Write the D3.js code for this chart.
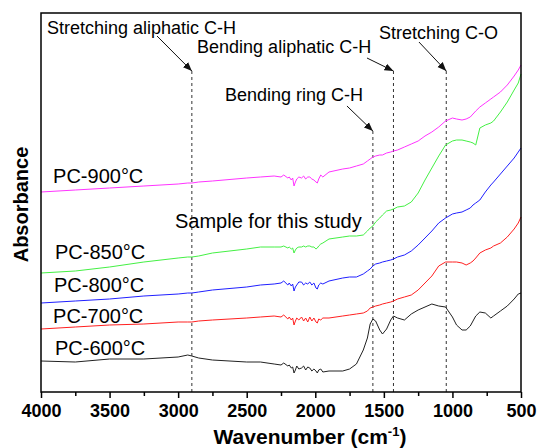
<!DOCTYPE html>
<html>
<head>
<meta charset="utf-8">
<script src="https://cdn.jsdelivr.net/npm/d3@7"></script>
<style>
  body { margin: 0; background: #fff; }
  svg { display: block; font-family: Arial, "Liberation Sans", sans-serif; }
</style>
</head>
<body>
<svg id="chart"></svg>
<script>
// wavenumber grid (cm-1) shared by all spectra
const wavenumbers = [4000, 3750, 3500, 3250, 3000, 2930, 2900, 2850, 2750, 2500, 2400,
  2300, 2250, 2230, 2200, 2190, 2175, 2165, 2155, 2145, 2135, 2120, 2100, 2085, 2070, 2055,
  2040, 2025, 2010, 1995, 1985, 1975, 1960, 1945, 1900,
  1800, 1750, 1700, 1650, 1620, 1600, 1580, 1560, 1530, 1510, 1480, 1450, 1430, 1400, 1350,
  1300, 1250, 1200, 1150, 1100, 1050, 1000, 970, 930, 900, 870, 850, 830, 800, 760, 720,
  700, 650, 600, 550, 520, 500];

// absorbance (a.u., stacked)
const pc600 = [0.31, 0.30, 0.33, 0.33, 0.35, 0.37, 0.36, 0.34, 0.32, 0.30, 0.30,
  0.28, 0.27, 0.29, 0.26, 0.27, 0.24, 0.25, 0.19, 0.22, 0.26, 0.23, 0.24, 0.26, 0.22, 0.25,
  0.24, 0.21, 0.23, 0.21, 0.19, 0.22, 0.23, 0.20, 0.21,
  0.21, 0.23, 0.28, 0.42, 0.54, 0.68, 0.73, 0.71, 0.62, 0.58, 0.63, 0.72, 0.76, 0.74, 0.72,
  0.78, 0.82, 0.85, 0.88, 0.86, 0.85, 0.75, 0.67, 0.62, 0.62, 0.66, 0.71, 0.76, 0.80, 0.79, 0.74,
  0.76, 0.81, 0.86, 0.93, 0.98, 0.99];
const pc700 = [0.63, 0.65, 0.67, 0.68, 0.70, 0.70, 0.70, 0.71, 0.72, 0.74, 0.75,
  0.76, 0.75, 0.77, 0.73, 0.75, 0.72, 0.74, 0.67, 0.71, 0.74, 0.72, 0.75, 0.71, 0.74, 0.70,
  0.75, 0.71, 0.74, 0.70, 0.69, 0.73, 0.72, 0.74, 0.74,
  0.76, 0.77, 0.78, 0.79, 0.81, 0.84, 0.85, 0.86, 0.87, 0.88, 0.89, 0.90, 0.91, 0.93, 0.95,
  0.97, 1.02, 1.09, 1.16, 1.26, 1.30, 1.30, 1.30, 1.29, 1.27, 1.29, 1.31, 1.34, 1.39, 1.42, 1.44,
  1.46, 1.49, 1.55, 1.63, 1.69, 1.75];
const pc800 = [0.89, 0.91, 0.93, 0.96, 0.98, 0.99, 0.99, 1.00, 1.02, 1.05, 1.07,
  1.08, 1.09, 1.11, 1.07, 1.09, 1.06, 1.08, 1.01, 1.05, 1.07, 1.10, 1.10, 1.07, 1.09, 1.08,
  1.10, 1.07, 1.09, 1.04, 1.03, 1.07, 1.09, 1.08, 1.11,
  1.14, 1.15, 1.15, 1.18, 1.21, 1.23, 1.26, 1.28, 1.29, 1.30, 1.31, 1.32, 1.33, 1.35, 1.37,
  1.41, 1.47, 1.54, 1.61, 1.69, 1.74, 1.78, 1.79, 1.80, 1.82, 1.84, 1.87, 1.89, 1.92, 2.00, 2.07,
  2.10, 2.18, 2.26, 2.34, 2.40, 2.44];
const pc850 = [1.19, 1.21, 1.25, 1.30, 1.34, 1.35, 1.35, 1.36, 1.39, 1.43, 1.45,
  1.45, 1.45, 1.46, 1.44, 1.45, 1.43, 1.44, 1.39, 1.42, 1.44, 1.45, 1.45, 1.46, 1.45, 1.46,
  1.46, 1.45, 1.45, 1.43, 1.44, 1.46, 1.48, 1.49, 1.53,
  1.55, 1.56, 1.56, 1.57, 1.61, 1.64, 1.66, 1.70, 1.74, 1.77, 1.81, 1.82, 1.83, 1.85, 1.86,
  1.90, 1.99, 2.12, 2.24, 2.36, 2.47, 2.51, 2.52, 2.52, 2.51, 2.50, 2.49, 2.47, 2.64, 2.67, 2.69,
  2.71, 2.80, 2.90, 3.02, 3.09, 3.18];
const pc900 = [2.00, 2.02, 2.04, 2.06, 2.08, 2.09, 2.09, 2.10, 2.11, 2.14, 2.15,
  2.16, 2.15, 2.17, 2.14, 2.15, 2.12, 2.14, 2.06, 2.10, 2.13, 2.15, 2.14, 2.16, 2.13, 2.15,
  2.15, 2.13, 2.12, 2.10, 2.09, 2.13, 2.17, 2.15, 2.20,
  2.23, 2.24, 2.26, 2.28, 2.31, 2.33, 2.35, 2.36, 2.37, 2.37, 2.39, 2.40, 2.41, 2.42, 2.45,
  2.48, 2.51, 2.56, 2.60, 2.65, 2.71, 2.74, 2.73, 2.72, 2.73, 2.75, 2.78, 2.81, 2.85, 2.89, 2.93,
  2.95, 3.00, 3.07, 3.16, 3.22, 3.27];

const seriesNames = ['PC-600°C', 'PC-700°C', 'PC-800°C', 'PC-850°C', 'PC-900°C'];
const seriesValues = [pc600, pc700, pc800, pc850, pc900];
const seriesColors = ['#222222', '#ff2020', '#2020ff', '#44f044', '#ff33ff'];
// where each series name sits (wavenumber, absorbance)
const labelWn = [3898, 3912, 3905, 3898, 3912];
const labelAbs = [0.37, 0.69, 1.00, 1.33, 2.09];

const xTicks = [4000, 3500, 3000, 2500, 2000, 1500, 1000, 500];
const xMinorTicks = [3750, 3250, 2750, 2250, 1750, 1250, 750];

// band assignments: dashed line position, line top, label, arrow tail
const bandWn = [2900, 1430, 1045, 1580];
const bandTop = [3.21, 3.21, 3.21, 2.61];
const bandText = ['Stretching aliphatic C-H', 'Bending aliphatic C-H', 'Stretching C-O', 'Bending ring C-H'];
const bandTextWn = [3956, 2862, 1535, 2658];
const bandTextAbs = [3.58, 3.39, 3.53, 2.91];
const bandTailWn = [3154, 1623, 1244, 1769];
const bandTailAbs = [3.56, 3.34, 3.50, 2.86];

const width = 538;
const height = 448;
const margin = { top: 13, right: 17, bottom: 56, left: 41 };

const svg = d3.select('#chart')
  .attr('width', width)
  .attr('height', height);

const x = d3.scaleLinear().domain([4000, 500]).range([margin.left, width - margin.right]);
const y = d3.scaleLinear().domain([0, 3.79]).range([height - margin.bottom, margin.top]);

svg.append('defs').append('marker')
  .attr('id', 'arrow')
  .attr('viewBox', '0 0 10 10')
  .attr('refX', 10)
  .attr('refY', 5)
  .attr('markerWidth', 9)
  .attr('markerHeight', 9)
  .attr('markerUnits', 'userSpaceOnUse')
  .attr('orient', 'auto')
  .append('path')
  .attr('d', 'M0,1 L10,5 L0,9 Z')
  .attr('fill', '#111');

// dashed band lines
svg.selectAll('.band')
  .data(bandWn)
  .enter().append('line')
  .attr('class', 'band')
  .attr('x1', d => x(d))
  .attr('x2', d => x(d))
  .attr('y1', (d, i) => y(bandTop[i]))
  .attr('y2', y(0))
  .attr('stroke', '#333')
  .attr('stroke-width', 1)
  .attr('stroke-dasharray', '3,3');

// spectra
const line = d3.line()
  .x(d => x(d[0]))
  .y(d => y(d[1]));

svg.selectAll('.spectrum')
  .data(seriesValues)
  .enter().append('path')
  .attr('class', 'spectrum')
  .attr('d', vals => line(wavenumbers.map((w, i) => [w, vals[i]])))
  .attr('fill', 'none')
  .attr('stroke', (d, i) => seriesColors[i])
  .attr('stroke-width', 1)
  .attr('stroke-linejoin', 'round');

// frame
svg.append('rect')
  .attr('x', margin.left)
  .attr('y', margin.top)
  .attr('width', width - margin.left - margin.right)
  .attr('height', height - margin.top - margin.bottom)
  .attr('fill', 'none')
  .attr('stroke', '#000')
  .attr('stroke-width', 1.5);

// x axis
const xAxis = svg.append('g')
  .attr('transform', `translate(0,${y(0)})`)
  .call(d3.axisBottom(x).tickValues(xTicks).tickSize(6).tickPadding(6).tickFormat(d3.format('d')));
xAxis.select('.domain').remove();
xAxis.selectAll('line').attr('stroke-width', 1.5);
xAxis.selectAll('text')
  .attr('font-family', 'Arial, "Liberation Sans", sans-serif')
  .attr('font-size', 18)
  .attr('font-weight', 'bold')
  .attr('fill', '#000');

const xMinor = svg.append('g')
  .attr('transform', `translate(0,${y(0)})`)
  .call(d3.axisBottom(x).tickValues(xMinorTicks).tickSize(4).tickFormat(''));
xMinor.select('.domain').remove();
xMinor.selectAll('line').attr('stroke-width', 1.5);

// axis titles
const xTitle = svg.append('text')
  .attr('x', 310)
  .attr('y', 444)
  .attr('text-anchor', 'middle')
  .attr('font-size', 21)
  .attr('font-weight', 'bold');
xTitle.append('tspan').text('Wavenumber (cm');
xTitle.append('tspan').attr('font-size', 13).attr('dy', -8).text('-1');
xTitle.append('tspan').attr('dy', 8).text(')');

svg.append('text')
  .attr('transform', `translate(28,${(margin.top + y(0)) / 2 + 2}) rotate(-90)`)
  .attr('text-anchor', 'middle')
  .attr('font-size', 20)
  .attr('font-weight', 'bold')
  .text('Absorbance');

// series labels
svg.selectAll('.series-label')
  .data(seriesNames)
  .enter().append('text')
  .attr('class', 'series-label')
  .attr('x', (d, i) => x(labelWn[i]))
  .attr('y', (d, i) => y(labelAbs[i]))
  .attr('font-size', 20)
  .text(d => d);

svg.append('text')
  .attr('x', x(3023))
  .attr('y', y(1.64))
  .attr('font-size', 20)
  .text('Sample for this study');

// band annotations with arrows
svg.selectAll('.band-label')
  .data(bandText)
  .enter().append('text')
  .attr('class', 'band-label')
  .attr('x', (d, i) => x(bandTextWn[i]))
  .attr('y', (d, i) => y(bandTextAbs[i]))
  .attr('font-size', 18)
  .text(d => d);

svg.selectAll('.band-arrow')
  .data(bandWn)
  .enter().append('line')
  .attr('class', 'band-arrow')
  .attr('x1', (d, i) => x(bandTailWn[i]))
  .attr('y1', (d, i) => y(bandTailAbs[i]))
  .attr('x2', d => x(d))
  .attr('y2', (d, i) => y(bandTop[i]))
  .attr('stroke', '#111')
  .attr('stroke-width', 1)
  .attr('marker-end', 'url(#arrow)');
</script>
</body>
</html>
